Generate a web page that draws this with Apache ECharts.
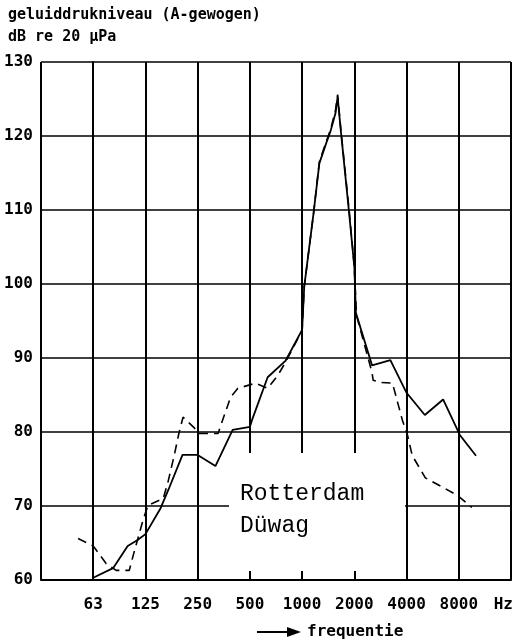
<!DOCTYPE html>
<html><head><meta charset="utf-8">
<script src="https://cdn.jsdelivr.net/npm/echarts@6/dist/echarts.min.js"></script>
<style>html,body{margin:0;padding:0;background:#fff}#c{width:515px;height:643px}</style>
</head><body><div id="c"></div>
<script>
// Octave band centre labels (position 0..7 on the x axis)
const bandLabels = ['63', '125', '250', '500', '1000', '2000', '4000', '8000'];
const yTicks = [60, 70, 80, 90, 100, 110, 120, 130];

// Solid curve: position in octaves (0 = 63 Hz) and level in dB(A)
const solidPos = [0, 0.38, 0.66, 0.85, 1.0, 1.29, 1.44, 1.71, 2.0, 2.34, 2.67, 3.0, 3.04, 3.34, 3.68, 4.0, 4.04, 4.22, 4.33, 4.46, 4.55, 4.64, 4.68, 4.74, 4.9, 5.0, 5.03, 5.34, 5.69, 6.0, 6.35, 6.7, 7.02, 7.33];
const solidDb  = [60.3, 61.6, 64.6, 65.4, 66.2, 69.7, 72.2, 76.9, 76.9, 75.4, 80.3, 80.7, 81.6, 87.4, 89.6, 93.8, 99.6, 109.6, 116.3, 119.0, 120.8, 123.1, 125.3, 120.8, 109.6, 102.3, 96.1, 89.0, 89.7, 85.3, 82.3, 84.4, 79.6, 76.8];

// Dashed curve
const dashPos = [-0.29, 0, 0.25, 0.44, 0.69, 0.78, 0.95, 1.05, 1.34, 1.43, 1.55, 1.64, 1.72, 1.93, 2.02, 2.39, 2.63, 2.77, 3.11, 3.34, 3.53, 3.68, 4.0, 4.04, 4.22, 4.33, 4.46, 4.55, 4.64, 4.68, 4.74, 4.9, 5.0, 5.04, 5.34, 5.36, 5.5, 5.73, 5.92, 6.01, 6.11, 6.36, 6.7, 6.98, 7.25];
const dashDb  = [65.6, 64.6, 62.2, 61.3, 61.3, 63.7, 68.0, 70.1, 71.0, 73.2, 76.8, 79.8, 82.0, 80.6, 79.8, 79.8, 84.7, 85.9, 86.6, 85.9, 87.6, 89.4, 93.7, 99.6, 109.6, 116.5, 119.2, 121.0, 123.5, 125.6, 121.0, 110.0, 102.3, 95.8, 88.0, 87.0, 86.7, 86.6, 81.6, 79.8, 76.8, 73.8, 72.5, 71.4, 69.8];

const MONO = '"DejaVu Sans Mono", monospace';
const pairs = (xs, ys) => xs.map((x, i) => [x, ys[i]]);

const chart = echarts.init(document.getElementById('c'), null, {renderer: 'canvas'});
chart.setOption({
  animation: false,
  backgroundColor: '#fff',
  grid: {left: 41, right: 4, top: 62, bottom: 63},
  xAxis: {
    type: 'value', min: -1, max: 8, interval: 1,
    axisLine: {show: true, lineStyle: {color: '#000', width: 2}},
    axisTick: {show: true, inside: true, length: 8, lineStyle: {color: '#000', width: 2}},
    splitLine: {show: true, lineStyle: {color: '#000', width: 2}},
    axisLabel: {
      margin: 17, color: '#000', fontFamily: MONO, fontSize: 16, fontWeight: 'bold',
      formatter: v => bandLabels[v] !== undefined ? bandLabels[v] : ''
    }
  },
  yAxis: {
    type: 'value', min: yTicks[0], max: yTicks[yTicks.length - 1], interval: 10,
    axisLine: {show: true, lineStyle: {color: '#000', width: 2}},
    axisTick: {show: false},
    splitLine: {show: true, lineStyle: {color: '#000', width: 1.5}},
    axisLabel: {margin: 8, color: '#000', fontFamily: MONO, fontSize: 16, fontWeight: 'bold'}
  },
  series: [
    {type: 'line', data: pairs(solidPos, solidDb), showSymbol: false, z: 3,
     lineStyle: {color: '#000', width: 1.8}},
    {type: 'line', data: pairs(dashPos, dashDb), showSymbol: false, z: 3,
     lineStyle: {color: '#000', width: 1.6, type: [9, 6]}}
  ],
  graphic: [
    {type: 'rect', z: 1, shape: {x: 229, y: 453, width: 176, height: 118}, style: {fill: '#fff'}},
    {type: 'text', z: 4, x: 240, y: 494, style: {text: 'Rotterdam', font: '23px "Liberation Mono"', fill: '#000', textVerticalAlign: 'middle'}},
    {type: 'text', z: 4, x: 240, y: 526, style: {text: 'Düwag', font: '23px "Liberation Mono"', fill: '#000', textVerticalAlign: 'middle'}},
    {type: 'text', z: 4, x: 8, y: 15, style: {text: 'geluiddrukniveau (A-gewogen)', font: 'bold 15px ' + MONO, fill: '#000', textVerticalAlign: 'middle'}},
    {type: 'text', z: 4, x: 8, y: 37, style: {text: 'dB re 20 μPa', font: 'bold 15px ' + MONO, fill: '#000', textVerticalAlign: 'middle'}},
    {type: 'text', z: 4, x: 513, y: 605, style: {text: 'Hz', font: 'bold 16px ' + MONO, fill: '#000', textAlign: 'right', textVerticalAlign: 'middle'}},
    {type: 'line', z: 4, shape: {x1: 257, y1: 632, x2: 292, y2: 632}, style: {stroke: '#000', lineWidth: 2}},
    {type: 'polygon', z: 4, shape: {points: [[287, 627], [301, 632], [287, 637]]}, style: {fill: '#000'}},
    {type: 'text', z: 4, x: 307, y: 632, style: {text: 'frequentie', font: 'bold 16px ' + MONO, fill: '#000', textVerticalAlign: 'middle'}}
  ]
});
</script>
</body></html>
